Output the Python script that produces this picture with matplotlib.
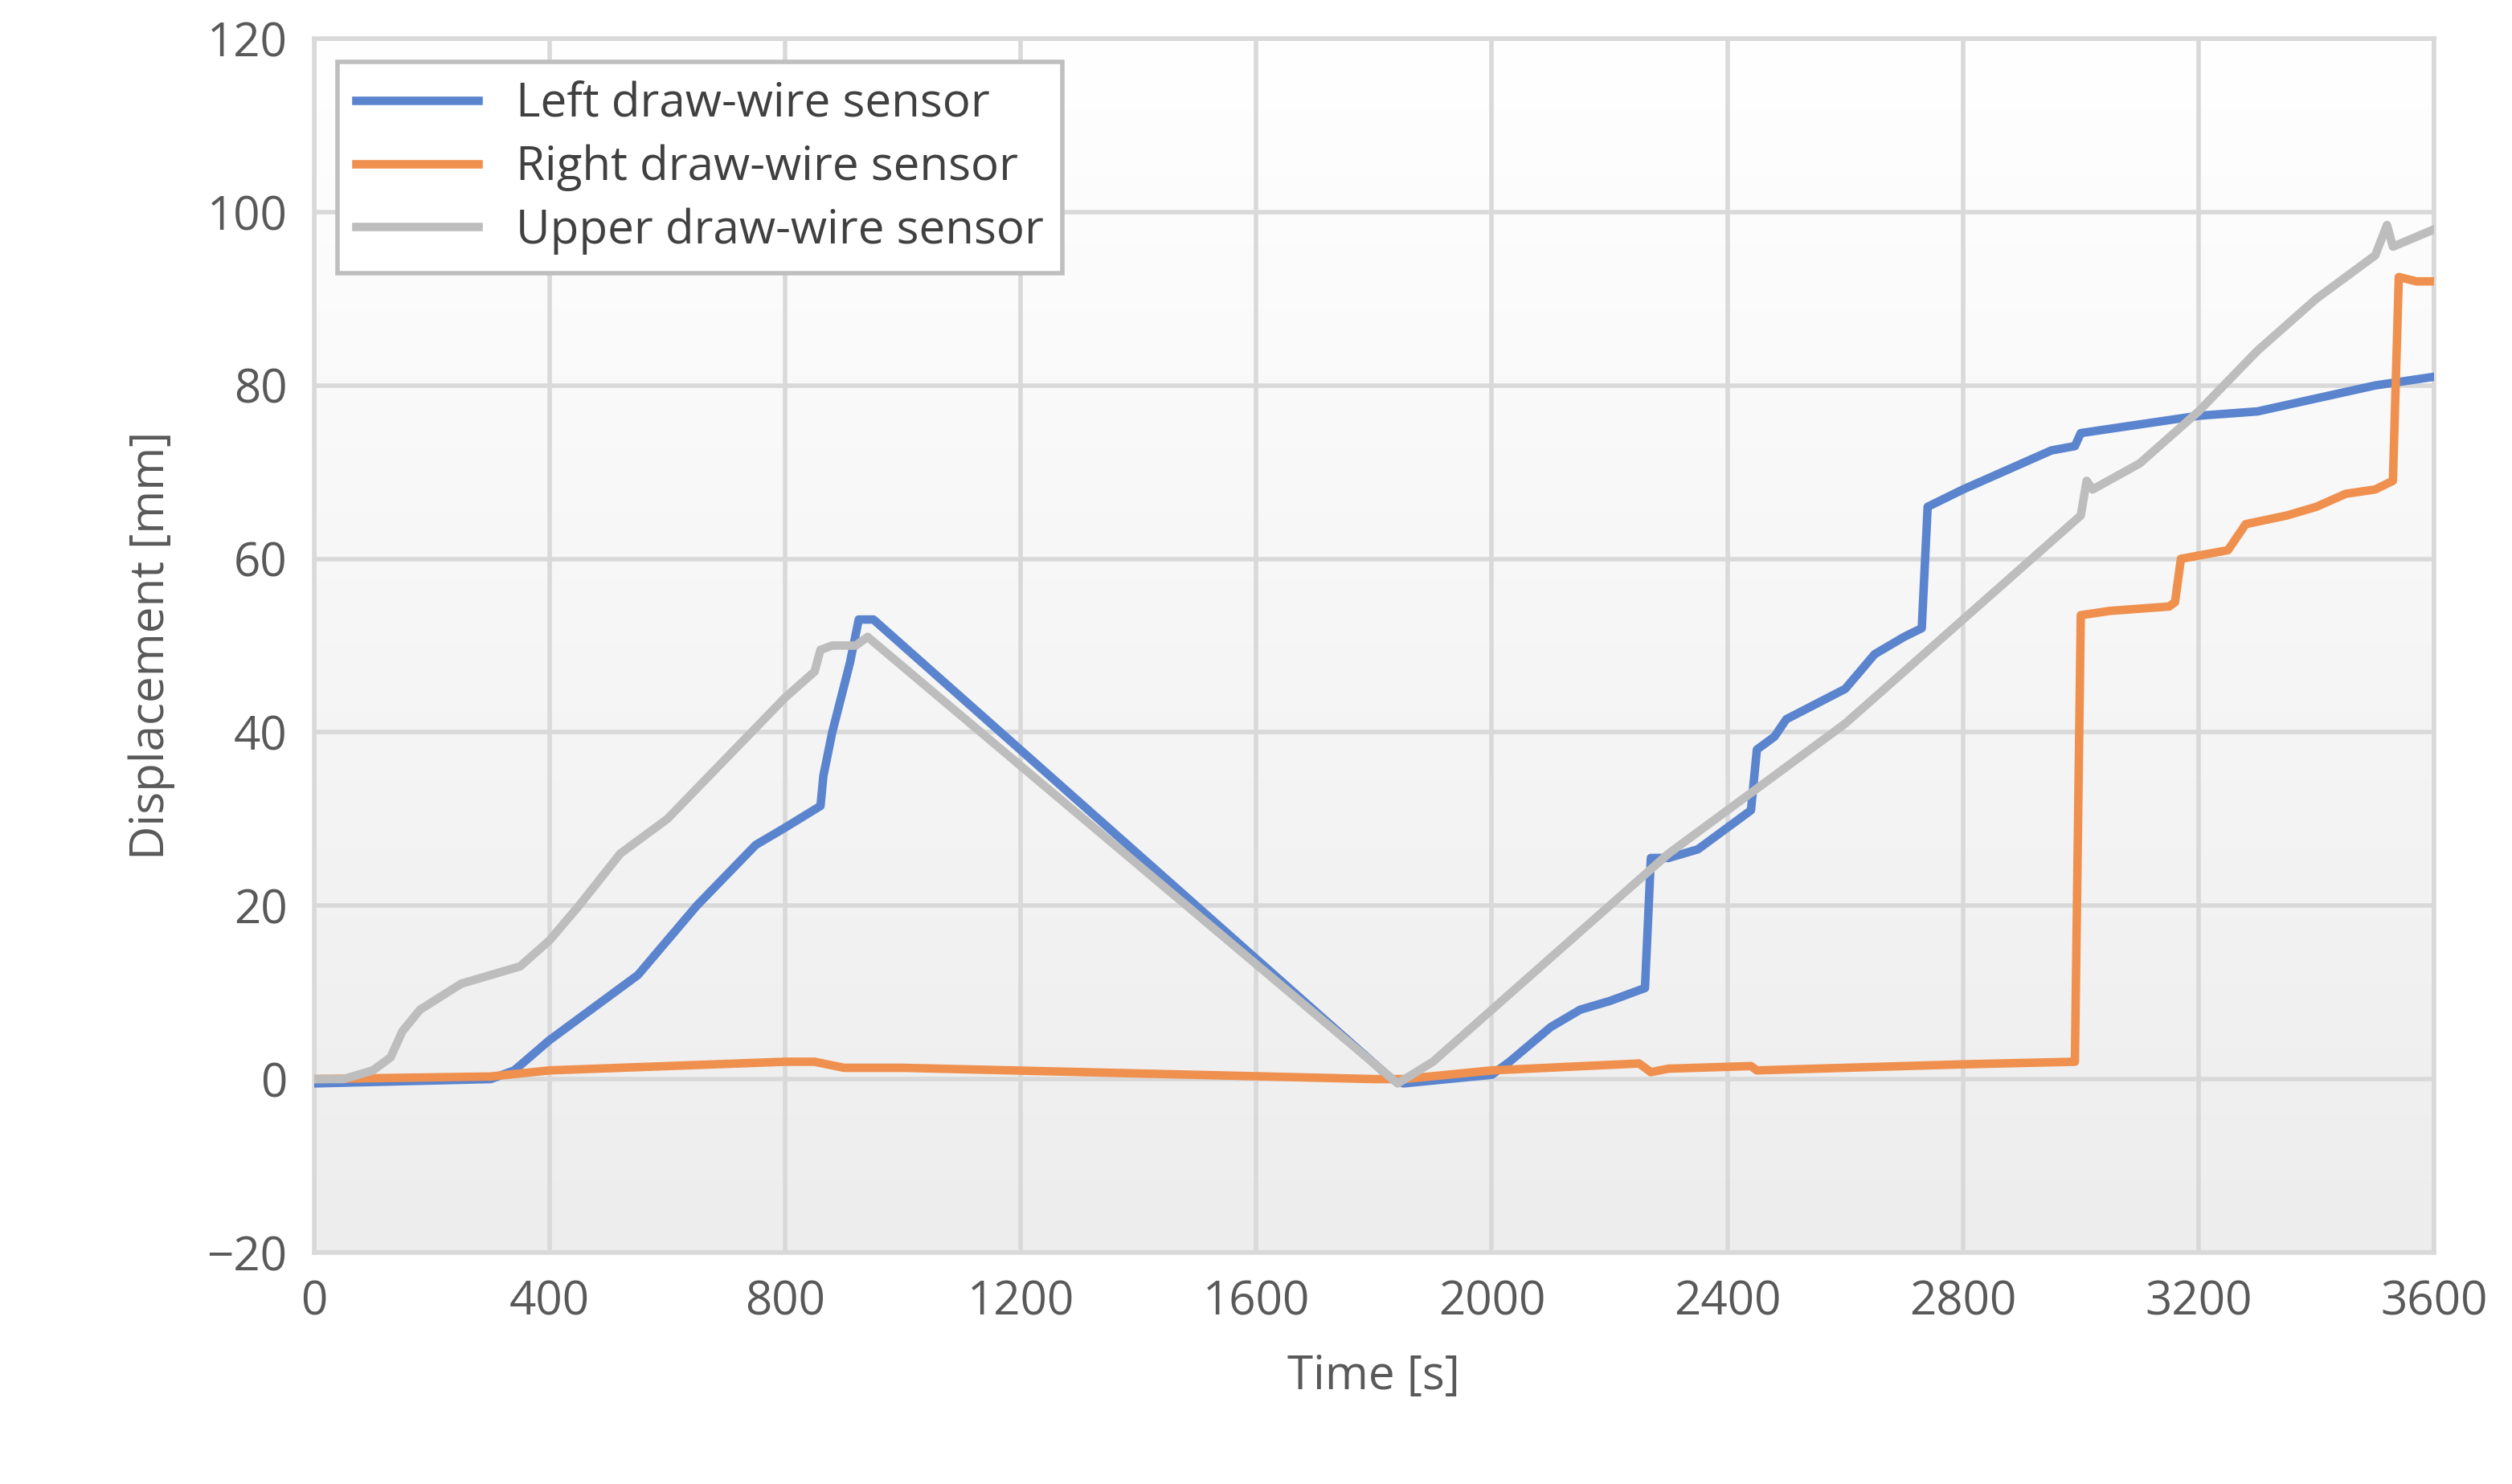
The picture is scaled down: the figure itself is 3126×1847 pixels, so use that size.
import matplotlib
matplotlib.use("Agg")
import matplotlib.pyplot as plt
import numpy as np

left_t = [0,300,340,400,450,550,650,750,800,860,865,880,910,925,950,1830,1850,2000,2030,2100,2150,2200,2260,2270,2300,2350,2400,2440,2450,2480,2500,2600,2650,2700,2730,2740,2800,2900,2950,2990,3000,3100,3200,3300,3400,3500,3600]
left_v = [-0.5,0,1,4.5,7,12,20,27,29,31.5,35,40,48,53,53,0,-0.5,0.5,2,6,8,9,10.5,25.5,25.5,26.5,29,31,38,39.5,41.5,45,49,51,52,66,68,71,72.5,73,74.5,75.5,76.5,77,78.5,80,81]
right_t = [0,300,400,600,800,850,900,1000,1800,1850,2000,2250,2270,2300,2440,2450,2600,2800,2990,3000,3050,3150,3160,3170,3250,3280,3350,3400,3450,3500,3530,3540,3570,3600]
right_v = [0,0.3,1,1.5,2,2,1.3,1.3,0,0,1,1.8,0.8,1.2,1.5,1,1.3,1.7,2,53.5,54,54.5,55,60,61,64,65,66,67.5,68,69,92.5,92,92]
upper_t = [0,50,100,130,150,180,250,300,350,400,450,520,600,700,800,850,860,880,920,940,1840,1900,2000,2100,2200,2300,2400,2500,2600,2700,2750,2800,2900,3000,3010,3020,3100,3200,3300,3400,3500,3520,3530,3600]
upper_v = [0,0,1,2.5,5.5,8,11,12,13,16,20,26,30,37,44,47,49.5,50,50,51,-0.5,2,8,14,20,26,31,36,41,47,50,53,59,65,69,68,71,77,84,90,95,98.5,96,98]
xticks = [0,400,800,1200,1600,2000,2400,2800,3200,3600]
yticks = [-20,0,20,40,60,80,100,120]

plt.rcParams['font.family'] = ['Open Sans', 'DejaVu Sans']
fig = plt.figure(figsize=(15.63, 9.235), dpi=200)
ax = fig.add_axes([0.125, 0.156, 0.844, 0.818])
grad = np.linspace(1, 0, 256).reshape(-1, 1)
ax.imshow(grad, extent=[0, 3600, -20, 120], aspect='auto', cmap=matplotlib.colors.LinearSegmentedColormap.from_list('g', ['#EDEDED', '#FFFFFF']), zorder=0)
ax.plot(left_t, left_v, color='#5B84CE', lw=3.8, label='Left draw-wire sensor', zorder=3)
ax.plot(right_t, right_v, color='#F0904E', lw=3.8, label='Right draw-wire sensor', zorder=3)
ax.plot(upper_t, upper_v, color='#BDBDBD', lw=3.8, label='Upper draw-wire sensor', zorder=4)
ax.set_xlim(0, 3600); ax.set_ylim(-20, 120)
ax.set_xticks(xticks); ax.set_yticks(yticks)
ax.set_yticklabels(['\u221220' if v < 0 else str(v) for v in yticks])
ax.grid(True, color='#D9D9D9', lw=2, zorder=1)
ax.set_axisbelow(True)
for s in ax.spines.values():
    s.set_color('#D9D9D9'); s.set_linewidth(2)
ax.tick_params(length=0, labelsize=21, colors='#595959', pad=12)
ax.set_xlabel('Time [s]', fontsize=21, color='#595959', labelpad=12)
ax.set_ylabel('Displacement [mm]', fontsize=21, color='#595959', labelpad=14)
leg = ax.legend(loc='upper left', fontsize=21, frameon=True, fancybox=False, borderaxespad=0.5, handlelength=2.6, labelspacing=0.35, labelcolor='#404040')
leg.get_frame().set_edgecolor('#BFBFBF'); leg.get_frame().set_linewidth(2); leg.get_frame().set_facecolor('white'); leg.get_frame().set_alpha(1)
fig.savefig('out.png', dpi=200)
